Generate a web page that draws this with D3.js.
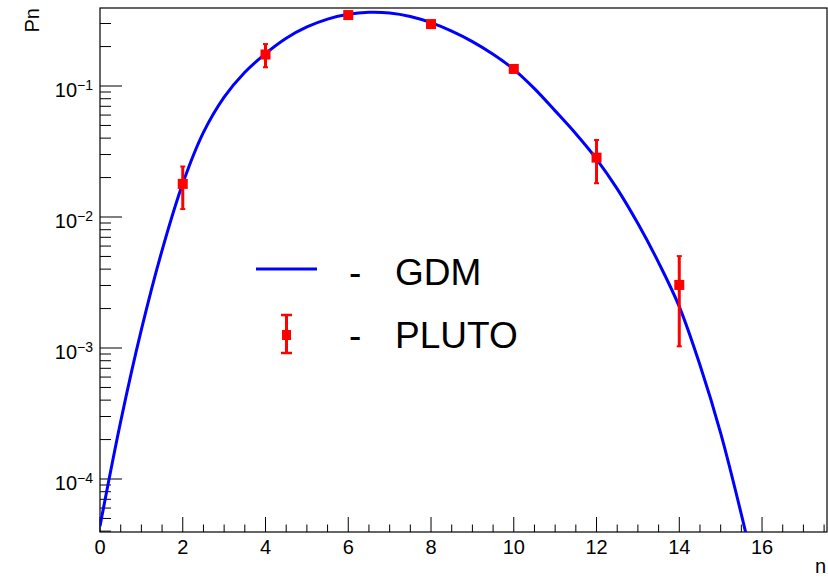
<!DOCTYPE html>
<html>
<head>
<meta charset="utf-8">
<script src="https://cdn.jsdelivr.net/npm/d3@7"></script>
<style>
  html, body { margin: 0; padding: 0; background: #fff; }
  svg { display: block; }
  text { font-family: "Liberation Sans", Arial, Helvetica, sans-serif; fill: #000; }
</style>
</head>
<body>
<svg id="chart" width="828" height="577"></svg>
<script>
// GDM multiplicity distribution, sampled every half unit of n
const gdmN  = [0, 0.5, 1, 1.5, 2, 2.5, 3, 3.5, 4, 4.5, 5, 5.5, 6, 6.5, 7, 7.5, 8, 8.5, 9, 9.5, 10, 10.5, 11, 11.5, 12, 12.5, 13, 13.5, 14, 14.5, 15, 15.5, 16];
const gdmPn = [4.37e-5, 2.75e-4, 1.38e-3, 5.56e-3, 0.0180, 0.0442, 0.0822, 0.1274, 0.1768, 0.2317, 0.2825, 0.3243, 0.3528, 0.3652, 0.3610, 0.3396, 0.3048, 0.2624, 0.2183, 0.1748, 0.1341, 0.0955, 0.0646, 0.0432, 0.0277, 0.0164, 0.00891, 0.00449, 0.00207, 7.41e-4, 2.24e-4, 5.37e-5, 1.12e-5];

// PLUTO points with symmetric errors
const plutoN   = [2, 4, 6, 8, 10, 12, 14];
const plutoPn  = [0.0179, 0.174, 0.348, 0.297, 0.135, 0.0284, 0.00303];
const plutoErr = [0.0064, 0.035, 0.02, 0.015, 0.008, 0.0103, 0.002];

// Axis ticks
const xMajorTicks = [0, 2, 4, 6, 8, 10, 12, 14, 16];
const yMajorExponents = [-1, -2, -3, -4];

const legendLabels = ["GDM", "PLUTO"];

const svg = d3.select("#chart");
const frame = { left: 100, right: 827, top: 8, bottom: 532 };

const x = d3.scaleLinear().domain([0, 17.57]).range([frame.left, frame.right]);
const y = d3.scaleLog().domain([3.94e-5, 0.394]).range([frame.bottom, frame.top]);

svg.append("defs").append("clipPath").attr("id", "plotclip")
  .append("rect")
  .attr("x", frame.left).attr("y", frame.top)
  .attr("width", frame.right - frame.left).attr("height", frame.bottom - frame.top);

// Frame
svg.append("rect")
  .attr("x", frame.left).attr("y", frame.top)
  .attr("width", frame.right - frame.left).attr("height", frame.bottom - frame.top)
  .attr("fill", "none").attr("stroke", "#000").attr("stroke-width", 1.2);

// X ticks: majors every 2, minors every 0.5
const xMinor = d3.range(0, 17.51, 0.5).filter(v => !xMajorTicks.includes(v));
const xAxisG = svg.append("g");
xAxisG.selectAll("line.major").data(xMajorTicks).join("line")
  .attr("x1", d => x(d)).attr("x2", d => x(d))
  .attr("y1", frame.bottom).attr("y2", frame.bottom - 15)
  .attr("stroke", "#000").attr("stroke-width", 1);
xAxisG.selectAll("line.minor").data(xMinor).join("line")
  .attr("x1", d => x(d)).attr("x2", d => x(d))
  .attr("y1", frame.bottom).attr("y2", frame.bottom - 7.5)
  .attr("stroke", "#000").attr("stroke-width", 1);
xAxisG.selectAll("text").data(xMajorTicks).join("text")
  .attr("x", d => x(d)).attr("y", 554)
  .attr("text-anchor", "middle").attr("font-size", 20)
  .text(d => d);

// Y ticks: decades and 2..9 subdivisions
const yMinor = [];
for (let e = -5; e <= -1; e++) {
  for (let k = 2; k <= 9; k++) {
    const v = k * Math.pow(10, e);
    if (v >= y.domain()[0] && v <= y.domain()[1]) yMinor.push(v);
  }
}
const yAxisG = svg.append("g");
yAxisG.selectAll("line.major").data(yMajorExponents).join("line")
  .attr("x1", frame.left).attr("x2", frame.left + 22)
  .attr("y1", d => y(Math.pow(10, d))).attr("y2", d => y(Math.pow(10, d)))
  .attr("stroke", "#000").attr("stroke-width", 1);
yAxisG.selectAll("line.minor").data(yMinor).join("line")
  .attr("x1", frame.left).attr("x2", frame.left + 11)
  .attr("y1", d => y(d)).attr("y2", d => y(d))
  .attr("stroke", "#000").attr("stroke-width", 1);
const yLabels = yAxisG.selectAll("text").data(yMajorExponents).join("text")
  .attr("x", 93).attr("y", d => y(Math.pow(10, d)) + 10.5)
  .attr("text-anchor", "end").attr("font-size", 20);
yLabels.append("tspan").text("10");
yLabels.append("tspan").attr("font-size", 14).attr("dy", -6.5)
  .text(d => "\u2212" + Math.abs(d));

// Axis titles
svg.append("text")
  .attr("transform", "translate(39,8) rotate(-90)")
  .attr("text-anchor", "end").attr("font-size", 20)
  .text("Pn");
svg.append("text")
  .attr("x", 826).attr("y", 573)
  .attr("text-anchor", "end").attr("font-size", 20)
  .text("n");

// GDM curve
const plot = svg.append("g").attr("clip-path", "url(#plotclip)");
const gdm = gdmN.map((n, i) => ({ n, p: gdmPn[i] }));
const line = d3.line()
  .x(d => x(d.n)).y(d => y(d.p))
  .curve(d3.curveCatmullRom.alpha(0.5));
plot.append("path").datum(gdm)
  .attr("d", line)
  .attr("fill", "none").attr("stroke", "#0000ff").attr("stroke-width", 3);

// PLUTO points with error bars
const pluto = plutoN.map((n, i) => ({ n, p: plutoPn[i], e: plutoErr[i] }));
const pts = plot.selectAll("g.pt").data(pluto).join("g");
pts.append("line")
  .attr("x1", d => x(d.n)).attr("x2", d => x(d.n))
  .attr("y1", d => y(d.p + d.e)).attr("y2", d => y(Math.max(d.p - d.e, 1e-6)))
  .attr("stroke", "#ff0000").attr("stroke-width", 3);
pts.append("line")
  .attr("x1", d => x(d.n) - 2.5).attr("x2", d => x(d.n) + 2.5)
  .attr("y1", d => y(d.p + d.e)).attr("y2", d => y(d.p + d.e))
  .attr("stroke", "#ff0000").attr("stroke-width", 2);
pts.append("line")
  .attr("x1", d => x(d.n) - 2.5).attr("x2", d => x(d.n) + 2.5)
  .attr("y1", d => y(d.p - d.e)).attr("y2", d => y(d.p - d.e))
  .attr("stroke", "#ff0000").attr("stroke-width", 2);
pts.append("rect")
  .attr("x", d => x(d.n) - 5).attr("y", d => y(d.p) - 5)
  .attr("width", 10).attr("height", 10)
  .attr("fill", "#ff0000");

// Legend
const legend = svg.append("g");
legend.append("line")
  .attr("x1", 256).attr("x2", 317).attr("y1", 269).attr("y2", 269)
  .attr("stroke", "#0000ff").attr("stroke-width", 3);
legend.append("line")
  .attr("x1", 286.5).attr("x2", 286.5).attr("y1", 315).attr("y2", 353)
  .attr("stroke", "#ff0000").attr("stroke-width", 3);
[315, 353].forEach(yy => legend.append("line")
  .attr("x1", 281).attr("x2", 292).attr("y1", yy).attr("y2", yy)
  .attr("stroke", "#ff0000").attr("stroke-width", 2.5));
legend.append("rect")
  .attr("x", 282).attr("y", 330).attr("width", 9).attr("height", 10)
  .attr("fill", "#ff0000");
legendLabels.forEach((lab, i) => {
  const base = i === 0 ? 285 : 348;
  legend.append("text").attr("x", 349).attr("y", base)
    .attr("font-size", 37).text("-");
  legend.append("text").attr("x", 395).attr("y", base)
    .attr("font-size", 37).text(lab);
});
</script>
</body>
</html>
